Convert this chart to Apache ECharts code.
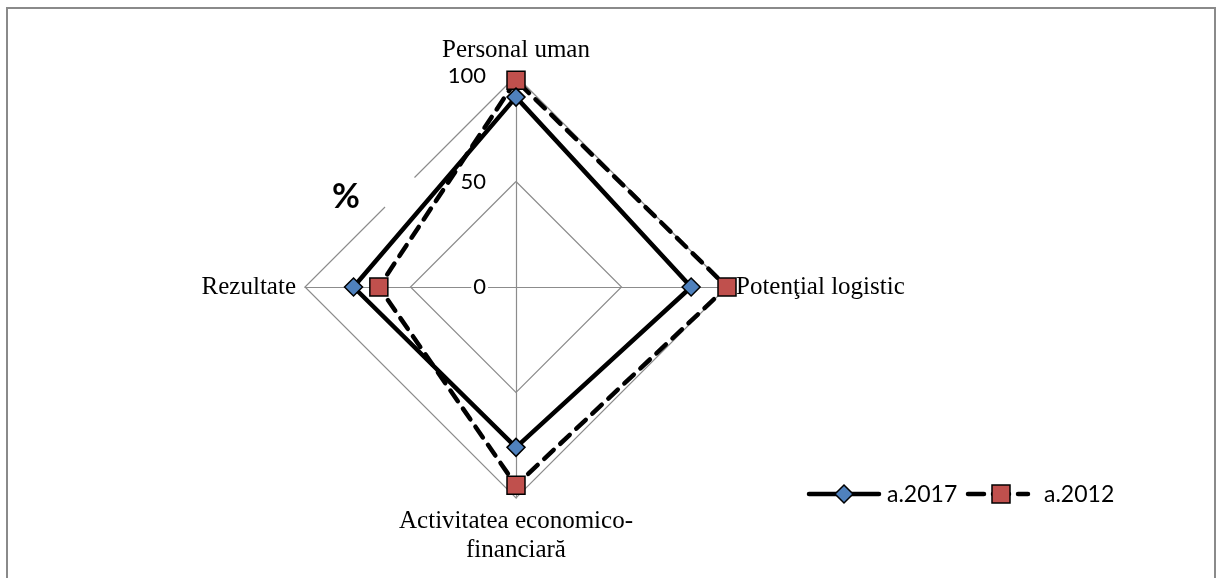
<!DOCTYPE html>
<html>
<head>
<meta charset="utf-8">
<script src="https://cdn.jsdelivr.net/npm/echarts@6/dist/echarts.min.js"></script>
<style>
  html, body { margin: 0; padding: 0; background: #fff; }
  #main { width: 1221px; height: 578px; }
</style>
</head>
<body>
<div id="main"></div>
<script>
// indicators in drawing order (top, left, bottom, right)
var indicators = ['Personal uman', 'Rezultate', 'Activitatea economico-\nfinanciară', 'Potenţial logistic'];
var values2017 = [90, 77, 76, 83];
var values2012 = [98, 65, 94, 100];
var seriesNames = ['a.2017', 'a.2012'];
var axisMin = 0;
var axisMax = 100;

var myChart = echarts.init(document.getElementById('main'));

var blue = '#4f81bd';
var red = '#c0504d';
var gridGrey = '#8c8c8c';

var option = {
    animation: false,
    radar: {
        center: [516, 287],
        radius: 211,
        startAngle: 90,
        shape: 'polygon',
        splitNumber: 2,
        nameGap: 9,
        axisName: {
            color: '#000',
            fontFamily: 'Liberation Serif',
            fontSize: 25,
            lineHeight: 29
        },
        indicator: indicators.map(function (name, i) {
            var ind = { name: name, min: axisMin, max: axisMax };
            if (i === 0) {
                ind.axisLabel = {
                    show: true,
                    color: '#000',
                    fontFamily: 'Lato',
                    fontSize: 22,
                    margin: 28,
                    align: 'right',
                    verticalAlign: 'middle',
                    backgroundColor: '#fff',
                    padding: [0, 2]
                };
            }
            return ind;
        }),
        splitArea: { show: false },
        splitLine: { lineStyle: { color: gridGrey, width: 1.2 } },
        axisLine: { lineStyle: { color: gridGrey, width: 1.2 } },
        axisTick: { show: false },
        axisLabel: { show: false }
    },
    series: [{
        type: 'radar',
        data: [
            {
                name: seriesNames[1],
                value: values2012,
                symbol: 'rect',
                symbolSize: 18,
                lineStyle: { color: '#000', width: 4.5, type: [13, 9], cap: 'round' },
                itemStyle: { color: red, borderColor: '#000', borderWidth: 1.5 }
            },
            {
                name: seriesNames[0],
                value: values2017,
                symbol: 'diamond',
                symbolSize: 18,
                lineStyle: { color: '#000', width: 4.5, type: 'solid' },
                itemStyle: { color: blue, borderColor: '#000', borderWidth: 1.5 }
            }
        ]
    }],
    graphic: [
        // outer frame
        { type: 'rect', shape: { x: 7, y: 8, width: 1208, height: 600 }, style: { fill: null, stroke: '#8a8a8a', lineWidth: 2 }, z: 1, silent: true },
        // break in the outer ring behind the axis title
        { type: 'line', shape: { x1: 385, y1: 207, x2: 414, y2: 177 }, style: { stroke: '#fff', lineWidth: 4 }, z: 50, silent: true },
        { type: 'text', x: 346, y: 197, style: { text: '%', font: 'bold 34px Lato', fill: '#000', align: 'center', verticalAlign: 'middle' }, z: 60 },
        // legend
        { type: 'line', shape: { x1: 809, y1: 494, x2: 879, y2: 494 }, style: { stroke: '#000', lineWidth: 4.5, lineCap: 'round' }, z: 60 },
        { type: 'polygon', shape: { points: [[844, 485], [853, 494], [844, 503], [835, 494]] }, style: { fill: blue, stroke: '#000', lineWidth: 1.5 }, z: 61 },
        { type: 'text', x: 887, y: 495, style: { text: seriesNames[0], font: '23px Lato', fill: '#000', align: 'left', verticalAlign: 'middle' }, z: 60 },
        { type: 'line', shape: { x1: 968, y1: 494, x2: 1028, y2: 494 }, style: { stroke: '#000', lineWidth: 4.5, lineDash: [16, 9], lineCap: 'round' }, z: 60 },
        { type: 'rect', shape: { x: 992, y: 485, width: 18, height: 18 }, style: { fill: red, stroke: '#000', lineWidth: 1.5 }, z: 61 },
        { type: 'text', x: 1044, y: 495, style: { text: seriesNames[1], font: '23px Lato', fill: '#000', align: 'left', verticalAlign: 'middle' }, z: 60 }
    ]
};
myChart.setOption(option);
</script>
</body>
</html>
